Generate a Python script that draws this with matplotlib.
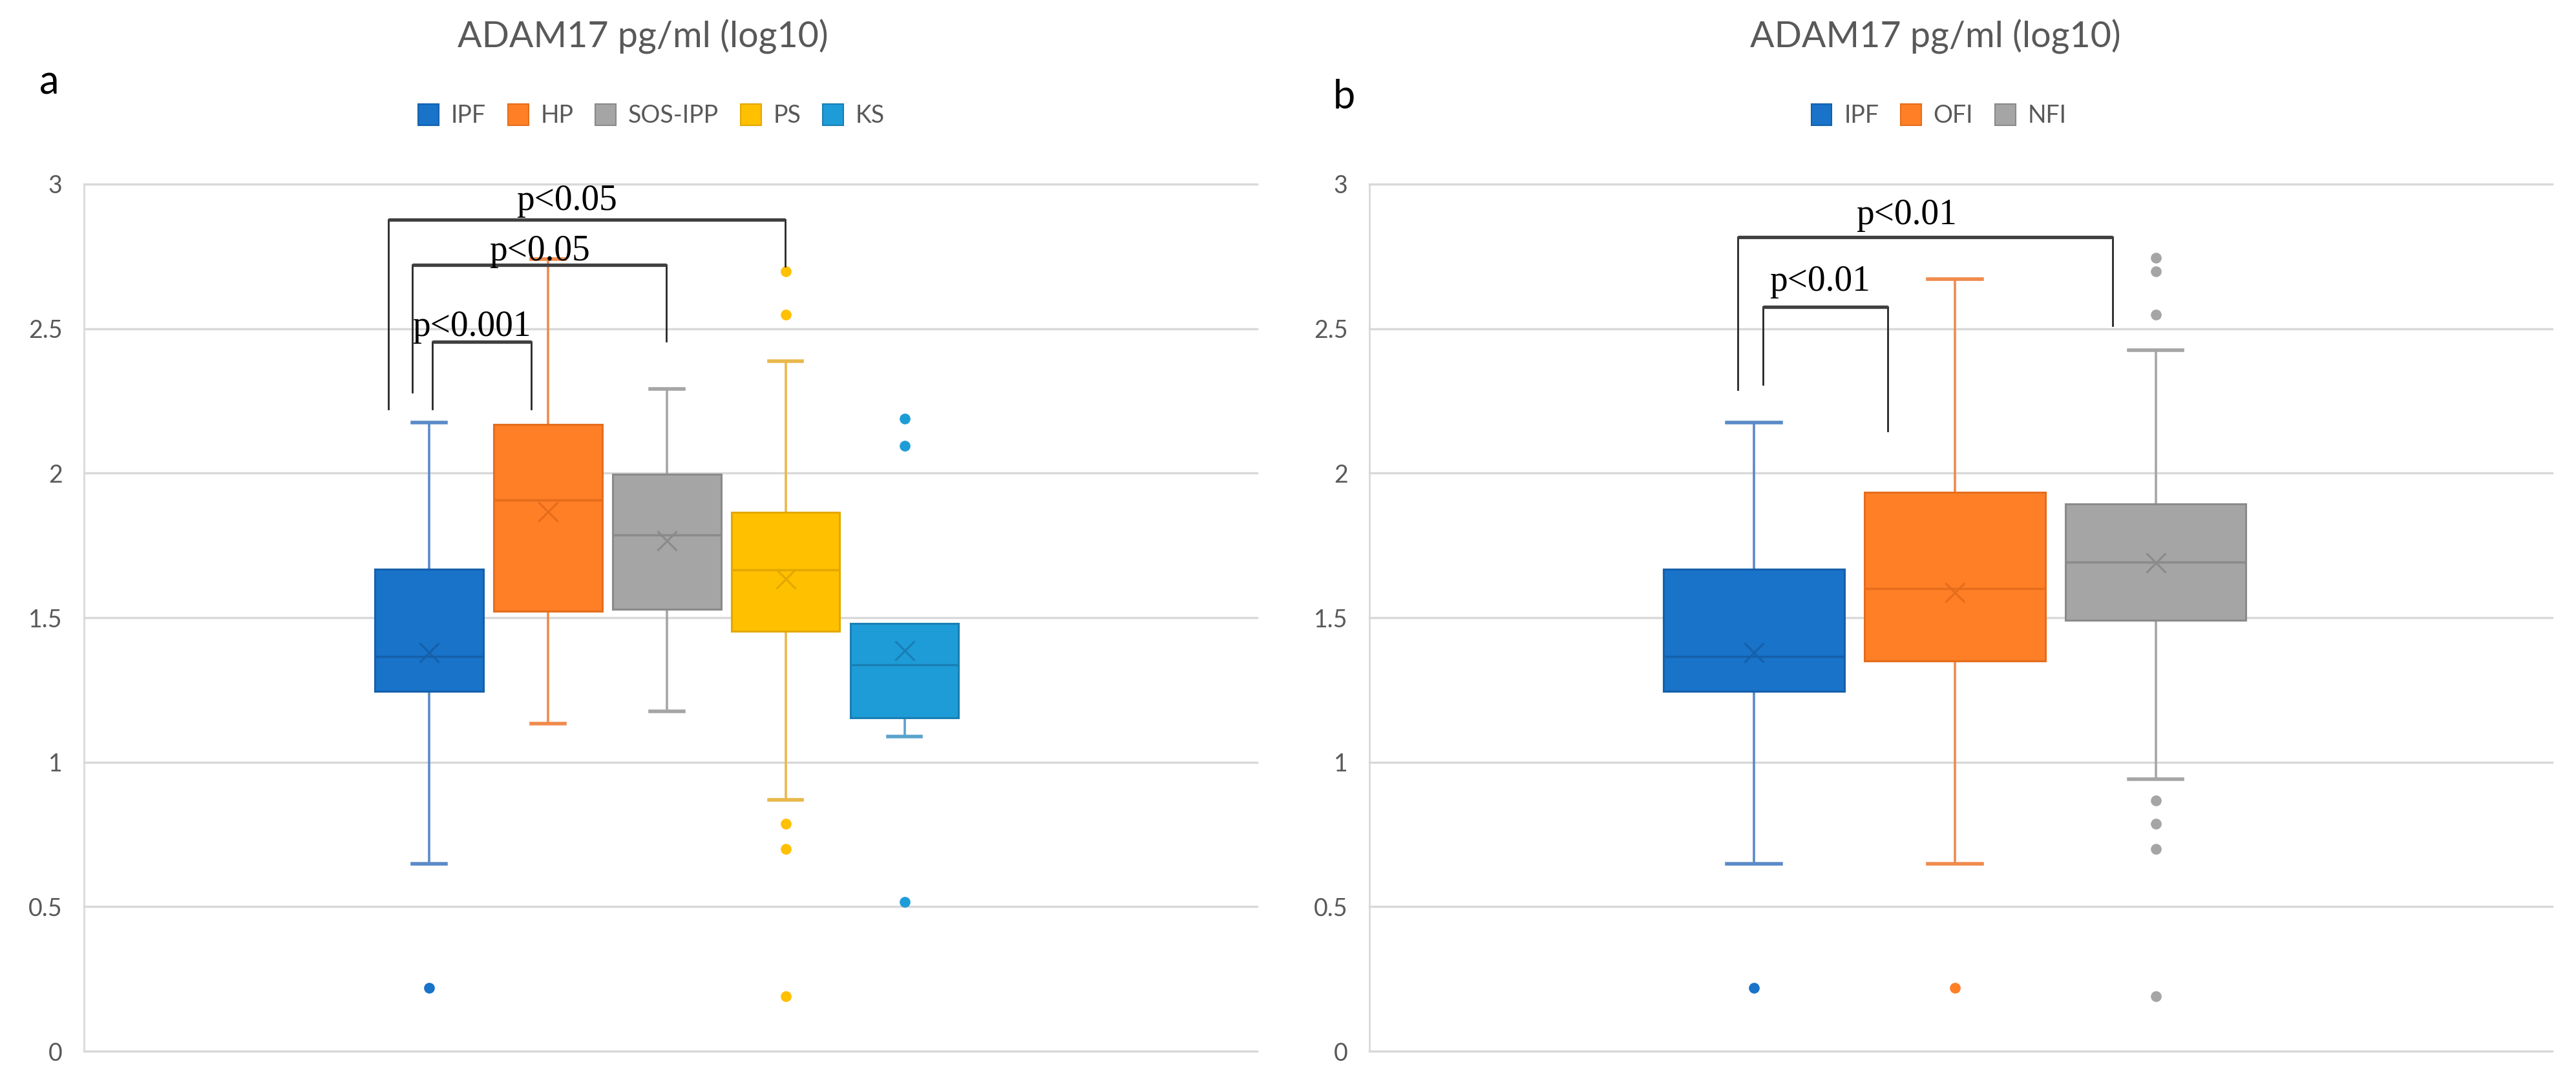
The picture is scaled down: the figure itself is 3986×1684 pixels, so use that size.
import matplotlib
matplotlib.use('Agg')
import matplotlib.pyplot as plt
from matplotlib.patches import Patch

plt.rcParams['font.family'] = ['Lato', 'DejaVu Sans']

# panel a data (log10 ADAM17)
groups_a = ['IPF', 'HP', 'SOS-IPP', 'PS', 'KS']
q1_a = [1.245, 1.523, 1.530, 1.453, 1.154]
med_a = [1.365, 1.907, 1.786, 1.665, 1.336]
q3_a = [1.667, 2.169, 1.996, 1.865, 1.481]
mean_a = [1.379, 1.866, 1.767, 1.635, 1.386]
lo_a = [0.648, 1.134, 1.175, 0.870, 1.088]
hi_a = [2.175, 2.741, 2.291, 2.387, 1.481]
fliers_a = [[0.219], [], [], [2.697, 2.548, 0.787, 0.700, 0.190], [2.189, 2.095, 0.516]]

# panel b data
groups_b = ['IPF', 'OFI', 'NFI']
q1_b = [1.245, 1.351, 1.492]
med_b = [1.365, 1.601, 1.693]
q3_b = [1.667, 1.934, 1.893]
mean_b = [1.379, 1.588, 1.690]
lo_b = [0.648, 0.648, 0.941]
hi_b = [2.175, 2.672, 2.425]
fliers_b = [[0.219], [0.219], [2.746, 2.698, 2.549, 0.868, 0.787, 0.700, 0.190]]

# fill, edge/median, whisker
colors_a = [('#1873c9', '#1560ab', '#5a8ac8'),
            ('#ff7f27', '#e56d1c', '#f08a4c'),
            ('#a5a5a5', '#8a8a8a', '#a5a5a5'),
            ('#ffc000', '#e3a800', '#e8b84a'),
            ('#1e9cd8', '#197fb4', '#5aa3cc')]
colors_b = colors_a[:3]

# significance brackets: x left, x right, bar y, left leg end, right leg end, text, text x, text y
brackets_a = [(0.028, 0.86, 2.454, 2.223, 2.223, 'p<0.001', 0.36, 2.475),
              (-0.144, 1.997, 2.720, 2.280, 2.456, 'p<0.05', 0.93, 2.735),
              (-0.345, 2.995, 2.878, 2.223, 2.716, 'p<0.05', 1.158, 2.911)]
brackets_b = [(0.045, 0.666, 2.575, 2.308, 2.147, 'p<0.01', 0.33, 2.632),
              (-0.081, 1.785, 2.817, 2.289, 2.510, 'p<0.01', 0.76, 2.862)]

fig = plt.figure(figsize=(39.86, 16.84), dpi=100)
ax_a = fig.add_axes([0.0326, 0.0338, 0.4554, 0.797])
ax_b = fig.add_axes([0.5316, 0.0338, 0.4591, 0.797])


def draw_panel(ax, names, q1, med, q3, mean, lo, hi, fliers, colors, width, capw, xlim):
    stats = []
    for i in range(len(names)):
        stats.append(dict(label=names[i], q1=q1[i], med=med[i], q3=q3[i], mean=mean[i],
                          whislo=lo[i], whishi=hi[i], fliers=fliers[i]))
    pos = list(range(len(names)))
    res = ax.bxp(stats, positions=pos, widths=width, capwidths=capw, showmeans=True,
                 patch_artist=True, showfliers=True)
    for i, (fc, ec, wc) in enumerate(colors):
        res['boxes'][i].set(facecolor=fc, edgecolor=ec, linewidth=2.2, zorder=3)
        res['medians'][i].set(color=ec, linewidth=2.5, zorder=4)
        for ln in res['whiskers'][2 * i:2 * i + 2]:
            ln.set(color=wc, linewidth=2.6, zorder=2)
        for ln in res['caps'][2 * i:2 * i + 2]:
            ln.set(color=wc, linewidth=4, zorder=2)
        # no upper whisker when the max sits on the box top
        if hi[i] <= q3[i]:
            res['caps'][2 * i + 1].set_visible(False)
        res['fliers'][i].set(marker='o', markersize=11, markerfacecolor=fc,
                             markeredgecolor=fc, zorder=3)
        res['means'][i].set(marker='x', markersize=21, markeredgewidth=2.2,
                            markeredgecolor=ec, zorder=4)

    ax.set_ylim(0, 3)
    ax.set_xlim(*xlim)
    for y in [0, 0.5, 1, 1.5, 2, 2.5, 3]:
        ax.axhline(y, color='#d9d9d9', linewidth=2.5, zorder=0, clip_on=False)
    ax.set_yticks([0, 0.5, 1, 1.5, 2, 2.5, 3])
    ax.set_yticklabels(['0', '0.5', '1', '1.5', '2', '2.5', '3'])
    ax.tick_params(axis='y', length=0, pad=24, labelsize=27, labelcolor='#595959')
    ax.set_xticks([])
    for s in ['top', 'right', 'bottom']:
        ax.spines[s].set_visible(False)
    ax.spines['left'].set_color('#d9d9d9')
    ax.spines['left'].set_linewidth(2)


def draw_brackets(ax, brackets):
    for xl, xr, yb, yl, yr, txt, tx, ty in brackets:
        ax.plot([xl, xl], [yl, yb], color='#262626', linewidth=2, zorder=5, clip_on=False)
        ax.plot([xr, xr], [yr, yb], color='#262626', linewidth=2, zorder=5, clip_on=False)
        ax.plot([xl, xr], [yb, yb], color='#404040', linewidth=3.8, zorder=5,
                solid_capstyle='butt', clip_on=False)
        ax.text(tx, ty, txt, ha='center', va='baseline', fontsize=40,
                family='Liberation Serif', color='black', zorder=6)


draw_panel(ax_a, groups_a, q1_a, med_a, q3_a, mean_a, lo_a, hi_a, fliers_a,
           colors_a, 0.91, 0.28, (-2.905, 6.967))
draw_panel(ax_b, groups_b, q1_b, med_b, q3_b, mean_b, lo_b, hi_b, fliers_b,
           colors_b, 0.9, 0.27, (-1.913, 3.973))
draw_brackets(ax_a, brackets_a)
draw_brackets(ax_b, brackets_b)

# titles, panel letters, legends
for cx in [995 / 3986, 2995 / 3986]:
    fig.text(cx, 1 - 57 / 1684, 'ADAM17 pg/ml (log10)', ha='center', va='center',
             fontsize=40, color='#595959')
fig.text(76 / 3986, 1 - 146 / 1684, 'a', ha='center', va='baseline', fontsize=44, color='black')
fig.text(2080 / 3986, 1 - 168 / 1684, 'b', ha='center', va='baseline', fontsize=44, color='black')

for names, colors, cx in [(groups_a, colors_a, 1008 / 3986), (groups_b, colors_b, 3000 / 3986)]:
    handles = [Patch(facecolor=c[0], edgecolor=c[1], linewidth=1.5) for c in colors]
    leg = fig.legend(handles, names, loc='center', bbox_to_anchor=(cx, 1 - 179 / 1684),
                     ncol=len(names), frameon=False, fontsize=27, handlelength=0.85,
                     handleheight=1.0, handletextpad=0.5, columnspacing=0.9)
    for t in leg.get_texts():
        t.set_color('#595959')

fig.savefig('out.png', dpi=100, facecolor='white')
